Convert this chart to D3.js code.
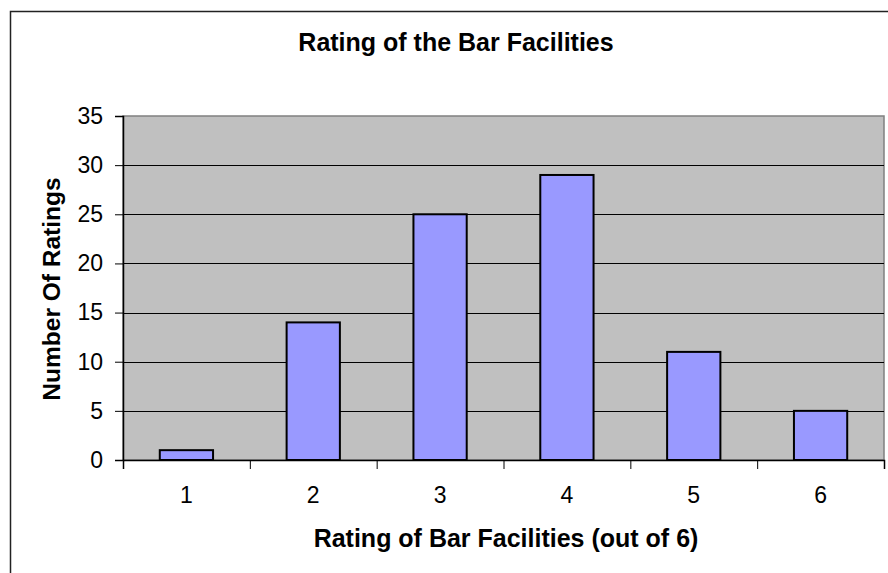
<!DOCTYPE html>
<html>
<head>
<meta charset="utf-8">
<script src="https://cdn.jsdelivr.net/npm/d3@7"></script>
<style>
  body { margin: 0; background: #fff; }
  text { font-family: "Liberation Sans", Arial, sans-serif; fill: #000; }
</style>
</head>
<body>
<div id="chart"></div>
<script>
/* Data */
const ratings = ["1", "2", "3", "4", "5", "6"];
const counts = [1, 14, 25, 29, 11, 5];
const yTicks = [0, 5, 10, 15, 20, 25, 30, 35];

/* Layout */
const W = 888, H = 573;
const plot = { left: 123, right: 884, top: 116, bottom: 460 };

const svg = d3.select("#chart").append("svg")
  .attr("width", W)
  .attr("height", H);

// Outer chart border (runs off the right and bottom edges)
svg.append("rect")
  .attr("x", 10.5).attr("y", 11.5)
  .attr("width", 920).attr("height", 620)
  .attr("fill", "#fff")
  .attr("stroke", "#222")
  .attr("stroke-width", 1.5);

const x = d3.scaleBand()
  .domain(ratings)
  .range([plot.left, plot.right])
  .paddingInner(0.58)
  .paddingOuter(0.29);

const xEdges = d3.scaleLinear()
  .domain([0, ratings.length])
  .range([plot.left, plot.right]);

const y = d3.scaleLinear()
  .domain([0, 35])
  .range([plot.bottom, plot.top]);

// Plot background
svg.append("rect")
  .attr("x", plot.left).attr("y", plot.top)
  .attr("width", plot.right - plot.left)
  .attr("height", plot.bottom - plot.top)
  .attr("fill", "#c0c0c0")
  .attr("stroke", "#808080")
  .attr("stroke-width", 1.5);

// Gridlines
svg.append("g")
  .selectAll("line")
  .data(yTicks.filter(d => d > 0 && d < 35))
  .join("line")
    .attr("x1", plot.left).attr("x2", plot.right)
    .attr("y1", d => Math.round(y(d)) + 0.5)
    .attr("y2", d => Math.round(y(d)) + 0.5)
    .attr("stroke", "#000")
    .attr("stroke-width", 1);

// Bars
svg.append("g")
  .selectAll("rect")
  .data(counts)
  .join("rect")
    .attr("x", (d, i) => x(ratings[i]))
    .attr("y", d => y(d))
    .attr("width", x.bandwidth())
    .attr("height", d => y(0) - y(d))
    .attr("fill", "#9999ff")
    .attr("stroke", "#000")
    .attr("stroke-width", 2);

// Y axis
const yAxis = d3.axisLeft(y)
  .tickValues(yTicks)
  .tickSize(8)
  .tickPadding(12);

svg.append("g")
  .attr("transform", "translate(" + plot.left + ",0)")
  .call(yAxis)
  .call(g => g.select(".domain").attr("stroke", "#000").attr("stroke-width", 1.5))
  .call(g => g.selectAll(".tick line").attr("stroke", "#000"))
  .call(g => g.selectAll(".tick text")
    .style("font-family", "'Liberation Sans', Arial, sans-serif")
    .style("font-size", "23px")
    .attr("fill", "#000"));

// X axis (ticks at category edges)
const xAxis = d3.axisBottom(xEdges)
  .tickValues(d3.range(0, ratings.length + 1))
  .tickSize(9)
  .tickFormat("");

svg.append("g")
  .attr("transform", "translate(0," + plot.bottom + ")")
  .call(xAxis)
  .call(g => g.select(".domain").attr("stroke", "#000").attr("stroke-width", 1.5))
  .call(g => g.selectAll(".tick line").attr("stroke", "#000"));

// X category labels
svg.append("g")
  .selectAll("text")
  .data(ratings)
  .join("text")
    .attr("x", d => x(d) + x.bandwidth() / 2)
    .attr("y", 503)
    .attr("text-anchor", "middle")
    .style("font-size", "23px")
    .text(d => d);

/* Titles */
svg.append("text")
  .attr("x", 456)
  .attr("y", 51)
  .attr("text-anchor", "middle")
  .style("font-size", "25px")
  .style("font-weight", "bold")
  .text("Rating of the Bar Facilities");

svg.append("text")
  .attr("x", 506)
  .attr("y", 547)
  .attr("text-anchor", "middle")
  .style("font-size", "25px")
  .style("font-weight", "bold")
  .text("Rating of Bar Facilities (out of 6)");

svg.append("text")
  .attr("transform", "translate(60,289) rotate(-90)")
  .attr("text-anchor", "middle")
  .style("font-size", "24.5px")
  .style("font-weight", "bold")
  .text("Number Of Ratings");
</script>
</body>
</html>
